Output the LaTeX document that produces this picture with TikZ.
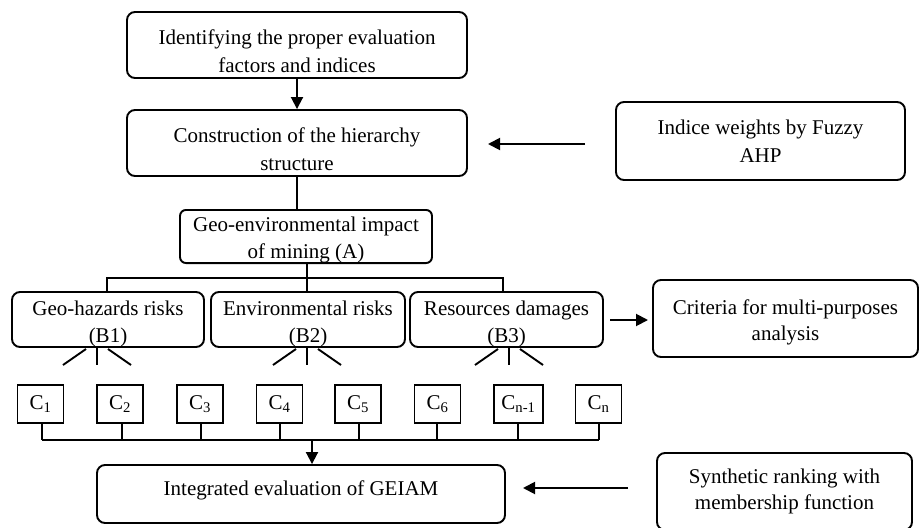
\documentclass[tikz,border=0pt]{standalone}
\usepackage{fontspec}
\setmainfont{Liberation Serif}
\usetikzlibrary{arrows.meta,calc}
\newcommand\tx[3]{\rule{0pt}{#1pt}#3\rule[-#2pt]{0pt}{0pt}}
\begin{document}
\begin{tikzpicture}[x=1pt,y=-1pt,
  box/.style={draw,line width=1.9pt,rounded corners=8pt,align=center,inner sep=0pt,
    font=\fontsize{21}{28}\selectfont},
  cbox/.style={draw,line width=1.7pt,inner sep=0pt,minimum width=46pt,minimum height=38pt,
    font=\fontsize{21}{24}\selectfont},
  ln/.style={line width=1.9pt},
  arr/.style={line width=1.9pt,-{Triangle[length=12pt,width=12pt]}}]
\useasboundingbox (0,0) rectangle (920,527);
\node[box,minimum width=340pt,minimum height=66pt] (top) at (297,45) {\tx{31}{5}{Identifying the proper evaluation\\factors and indices}};
\node[box,minimum width=340pt,minimum height=66pt] (cons) at (297,143) {\tx{31}{5}{Construction of the hierarchy\\structure}};
\node[box,minimum width=289pt,minimum height=78pt] (ind) at (760.5,141) {\tx{20}{6}{Indice weights by Fuzzy\\AHP}};
\node[box,minimum width=252pt,minimum height=53pt,rounded corners=6pt,font=\fontsize{21}{27}\selectfont] (geo) at (306,236.5) {\tx{21.5}{4.6}{Geo-environmental impact\\of mining (A)}};
\tikzset{bbox/.style={box,minimum height=55pt,font=\fontsize{21}{27}\selectfont}}
\node[bbox,minimum width=192pt] (b1) at (108,319.5) {\tx{23.4}{4.6}{Geo-hazards risks\\(B1)}};
\node[bbox,minimum width=194pt] (b2) at (308,319.5) {\tx{23.4}{4.6}{Environmental risks\\(B2)}};
\node[bbox,minimum width=193pt] (b3) at (506.5,319.5) {\tx{23.4}{4.6}{Resources damages\\(B3)}};
\node[box,minimum width=265pt,minimum height=77pt,font=\fontsize{21}{26}\selectfont] (crit) at (785.5,318.5) {\tx{22}{5}{Criteria for multi-purposes\\analysis}};
\node[cbox] (c1) at (40.5,404) {C\textsubscript{1}};
\node[cbox] (c2) at (120,404) {C\textsubscript{2}};
\node[cbox] (c3) at (200,404) {C\textsubscript{3}};
\node[cbox] (c4) at (279.5,404) {C\textsubscript{4}};
\node[cbox] (c5) at (358,404) {C\textsubscript{5}};
\node[cbox] (c6) at (437.5,404) {C\textsubscript{6}};
\node[cbox,minimum width=49pt] (cn1) at (518.5,404) {C\textsubscript{n-1}};
\node[cbox] (cn) at (598.5,404) {C\textsubscript{n}};
\node[box,minimum width=408pt,minimum height=58pt] (integ) at (301,494) {\tx{16}{14}{Integrated evaluation of GEIAM}};
\node[box,minimum width=255pt,minimum height=77pt,font=\fontsize{21}{26}\selectfont] (synth) at (784.5,491.5) {\tx{18}{8}{Synthetic ranking with\\membership function}};
% connectors
\draw[arr] (top.south) -- (cons.north);
\draw[ln] (cons.south) -- (cons.south |- geo.north);
\coordinate (hA) at (307,278);
\draw[ln] (geo.south -| hA) -- (hA);
\draw[ln] (b1.north -| 107,0) -- (107,278) -- (503,278) -- (b3.north -| 503,0);
\draw[ln] (hA) -- (b2.north -| hA);
\coordinate (i1) at (585,144); \coordinate (i2) at (488,144);
\draw[arr] (i1) -- (i2);
\coordinate (r1) at (610,320); \coordinate (r2) at (648,320);
\draw[arr] (r1) -- (r2);
\coordinate (s1) at (628,488); \coordinate (s2) at (523,488);
\draw[arr] (s1) -- (s2);
% fans
\foreach \b/\cx in {b1/97,b2/307,b3/509}{
  \draw[ln] (\cx,347) -- (\cx,365);
  \draw[ln] (\cx-11,349) -- (\cx-34,365);
  \draw[ln] (\cx+11,349) -- (\cx+34,365);
}
% C connectors
\coordinate (bl) at (42,440); \coordinate (br) at (599,440);
\foreach \c/\x in {c1/42,c2/122,c3/201,c4/280,c5/359,c6/437,cn1/518,cn/599}{
  \draw[ln] (\c.south -| \x,0) -- (\x,440);
}
\draw[ln] (bl) -- (br);
\coordinate (ad) at (312,440);
\draw[arr] (ad) -- (integ.north -| ad);
\end{tikzpicture}
\end{document}
